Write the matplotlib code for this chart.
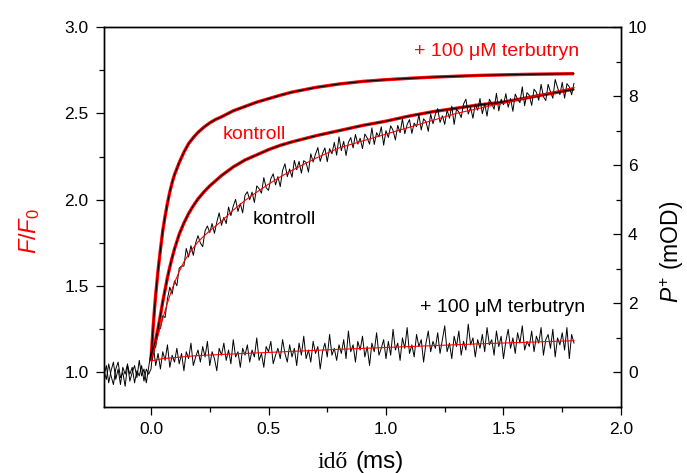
import numpy as np
import matplotlib
matplotlib.use("Agg")
import matplotlib.pyplot as plt
from matplotlib.ticker import MultipleLocator

plt.rcParams['font.family'] = ['Liberation Sans', 'DejaVu Sans']
plt.rcParams['mathtext.fontset'] = 'custom'
plt.rcParams['mathtext.rm'] = 'Liberation Sans'
plt.rcParams['mathtext.it'] = 'Liberation Sans:italic'

# --- fluorescence (F/F0), left axis ---
t_fit = [0, 0.005, 0.01, 0.015, 0.02, 0.03, 0.04, 0.05, 0.06, 0.07, 0.08, 0.09, 0.1,
         0.12, 0.14, 0.16, 0.18, 0.2, 0.225, 0.25, 0.275, 0.3, 0.35, 0.4, 0.45, 0.5, 0.55, 0.6,
         0.7, 0.8, 0.9, 1.0, 1.1, 1.2, 1.3, 1.4, 1.5, 1.6, 1.7, 1.8]
f_terb = [1.07, 1.18, 1.28, 1.37, 1.45, 1.59, 1.71, 1.82, 1.905, 1.98, 2.045, 2.10, 2.145,
          2.215, 2.275, 2.325, 2.36, 2.39, 2.42, 2.445, 2.465, 2.48, 2.515, 2.54, 2.565, 2.585,
          2.605, 2.623, 2.65, 2.67, 2.685, 2.695, 2.703, 2.71, 2.715, 2.72, 2.723, 2.726, 2.728, 2.73]
f_kontroll = [1.07, 1.10, 1.13, 1.16, 1.19, 1.255, 1.33, 1.41, 1.48, 1.55, 1.61, 1.665, 1.715,
              1.80, 1.865, 1.92, 1.965, 2.005, 2.045, 2.08, 2.11, 2.14, 2.19, 2.23, 2.26, 2.29,
              2.315, 2.335, 2.37, 2.40, 2.43, 2.455, 2.485, 2.51, 2.53, 2.55, 2.565, 2.59, 2.615, 2.64]

# --- P700+ absorbance (mOD), right axis: fits ---
p_kontroll_fit = [0.35, 0.47, 0.59, 0.71, 0.83, 1.07, 1.32, 1.56, 1.79, 2.01, 2.22, 2.42, 2.6,
                  2.92, 3.2, 3.42, 3.61, 3.78, 3.95, 4.1, 4.24, 4.38, 4.7, 4.98, 5.22, 5.45,
                  5.66, 5.85, 6.2, 6.5, 6.7, 6.9, 7.1, 7.3, 7.5, 7.65, 7.8, 7.95, 8.1, 8.25]
t_terb_fit = [0, 0.05, 0.2, 0.5, 0.8, 1.1, 1.4, 1.8]
p_terb_fit = [0.33, 0.40, 0.49, 0.58, 0.67, 0.75, 0.83, 0.92]

# --- P700+ raw traces, sampled every 0.01 ms from -0.2 to 1.8 ms ---
p_kontroll = [
    -0.1, 0.2, -0.3, 0.05, 0.3, -0.2, 0.1, -0.35, 0.15, -0.05, 0.25, -0.25, 0.0, 0.2, -0.15, 0.35, -0.1, 0.1, -0.3, 0.15,
    0.6,
    0.74, 0.73, 1.29, 1.27, 1.64, 1.59, 2.13, 2.47, 2.27, 2.65,
    2.51, 3.02, 3.08, 3.08, 3.59, 3.34, 3.67, 3.39, 3.75, 3.96,
    3.75, 3.64, 4.10, 4.24, 4.05, 4.31, 4.03, 4.35, 4.62, 4.26,
    4.49, 4.31, 4.79, 4.54, 4.82, 5.01, 4.66, 4.89, 4.62, 5.13,
    5.23, 5.00, 5.22, 4.92, 5.40, 5.32, 5.19, 5.64, 5.35, 5.27,
    5.61, 5.75, 5.43, 5.67, 5.38, 5.85, 6.04, 5.67, 5.89, 5.65,
    6.14, 5.87, 6.11, 5.77, 6.13, 6.08, 5.80, 6.33, 6.09, 6.32,
    6.51, 6.11, 6.34, 6.50, 6.10, 6.48, 6.33, 6.66, 6.29, 6.82,
    6.42, 6.69, 6.28, 6.66, 6.80, 6.50, 6.89, 6.61, 6.78, 6.48,
    6.90, 6.79, 6.61, 7.08, 6.60, 6.94, 6.82, 7.11, 6.58, 7.00,
    6.80, 7.14, 7.01, 6.73, 7.15, 6.94, 7.34, 6.91, 7.18, 7.32,
    6.92, 7.22, 7.11, 7.46, 7.02, 7.34, 7.26, 6.98, 7.48, 7.20,
    7.47, 7.64, 7.24, 7.43, 7.18, 7.60, 7.36, 7.71, 7.18, 7.62,
    7.54, 7.38, 7.77, 7.91, 7.48, 7.67, 7.36, 7.77, 7.59, 7.93,
    7.49, 7.78, 7.42, 7.91, 7.78, 7.62, 8.08, 7.57, 7.91, 7.75,
    8.07, 7.68, 7.93, 7.56, 8.06, 7.91, 7.81, 8.27, 7.72, 8.10,
    8.02, 7.73, 8.20, 8.11, 7.88, 8.34, 7.98, 7.87, 8.34, 8.12,
    7.94, 8.48, 8.25, 8.04, 8.40, 7.94, 8.36, 8.27, 8.04, 8.37,
]
p_terb = [
    0.05, -0.2, 0.25, -0.1, -0.35, 0.1, 0.3, -0.15, 0.0, -0.4, 0.2, -0.05, 0.15, -0.3, 0.05, -0.1, 0.2, -0.25, 0.1, -0.05,
    0.1,
    0.75, 0.2, 0.55, 0.1, 0.6, 0.35, 0.8, 0.15, 0.5, 0.3, 0.7, 0.25, 0.55, 0.05, 0.6, 0.4, 0.85, 0.2, 0.45, 0.65,
    0.3, 0.75, 0.45, 0.9, 0.2, 0.6, 0.4, 0.05, 0.7, 0.5, 0.85, 0.35, 0.65, 0.25, 0.95, 0.45, 0.6, 0.15, 0.7, 0.5,
    0.8, 0.3, 0.65, 0.45, 1.0, 0.35, 0.55, 0.15, 0.75, 0.6, 0.9, 0.25, 0.5, 0.7, 0.4, 0.95, 0.55, 0.3, 0.8, 0.45,
    0.7, 0.2, 0.85, 0.5, 1.05, 0.4, 0.65, 0.3, 0.9, 0.55, 0.75, 0.1, 0.6, 0.85, 0.45, 1.1, 0.5, 0.7, 0.35, 0.8,
    0.55, 0.95, 0.4, 1.2, 0.6, 0.8, 0.3, 0.9, 0.65, 1.05, 0.45, 0.75, 0.2, 0.85, 0.6, 1.15, 0.5, 0.7, 0.95, 0.4,
    0.9, 0.5, 1.25, 0.65, 0.85, 0.35, 1.0, 0.7, 1.3, 0.55, 0.8, 0.45, 1.1, 0.75, 0.95, 0.3, 0.85, 1.2, 0.6, 0.9,
    0.7, 1.15, 0.55, 0.95, 1.35, 0.6, 0.85, 0.4, 1.05, 0.75, 1.2, 0.5, 0.9, 0.65, 1.4, 0.8, 1.0, 0.45, 0.95, 0.7,
    1.1, 0.6, 1.3, 0.8, 0.95, 0.5, 1.2, 0.75, 1.05, 0.4, 0.9, 1.25, 0.7, 1.0, 0.55, 1.15, 0.85, 1.35, 0.65, 0.9,
    0.75, 1.2, 0.6, 1.05, 0.85, 1.3, 0.5, 0.95, 1.1, 0.7, 1.25, 0.45, 1.0, 0.8, 1.15, 0.65, 1.3, 0.4, 1.1, 0.85,
]
t_trace = np.round(np.arange(len(p_kontroll)) * 0.01 - 0.2, 3)

RED = '#ff0000'

fig = plt.figure(figsize=(6.87, 4.73), dpi=100)
ax = fig.add_axes([0.1514, 0.1395, 0.7525, 0.8034])
ax2 = ax.twinx()

# red fluorescence traces with black fits
for f in (f_terb, f_kontroll):
    ax.plot(t_fit, f, color=RED, lw=2.4, solid_capstyle='butt', zorder=2)
    ax.plot(t_fit, f, color='black', lw=0.8, zorder=3)

# black P700 traces with red fits
ax2.plot(t_trace, p_kontroll, color='black', lw=0.7)
ax2.plot(t_trace, p_terb, color='black', lw=0.7)
ax2.plot(t_fit, p_kontroll_fit, color=RED, lw=0.8)
ax2.plot(t_terb_fit, p_terb_fit, color=RED, lw=0.8)

ax.set_xlim(-0.2, 2.0)
ax.set_ylim(0.8, 3.0)
ax2.set_ylim(-1, 10)

ax.xaxis.set_major_locator(MultipleLocator(0.5))
ax.xaxis.set_minor_locator(MultipleLocator(0.25))
ax.yaxis.set_major_locator(MultipleLocator(0.5))
ax.yaxis.set_minor_locator(MultipleLocator(0.25))
ax2.yaxis.set_major_locator(MultipleLocator(2))
ax2.yaxis.set_minor_locator(MultipleLocator(1))
ax.xaxis.set_major_formatter(plt.FormatStrFormatter('%.1f'))
ax.yaxis.set_major_formatter(plt.FormatStrFormatter('%.1f'))

ax.tick_params(which='major', direction='out', length=6, width=0.9, labelsize=12.5, pad=5)
ax.tick_params(which='minor', direction='out', length=3.5, width=0.9)
ax.tick_params(top=False, right=False, which='both')
ax2.tick_params(which='major', direction='in', length=6, width=0.9, labelsize=12.5, pad=5)
ax2.tick_params(which='minor', direction='in', length=3.5, width=0.9)

for a in (ax, ax2):
    for s in a.spines.values():
        s.set_linewidth(1.0)

ax.set_ylabel(r'$F/F_0$', color=RED, fontsize=17)
ax.yaxis.set_label_coords(-0.12, 0.463)
ax2.set_ylabel(r'$P^{+}$ (mOD)', fontsize=16.5)
ax2.yaxis.set_label_coords(1.072, 0.408)

fig.text(348 / 687, 1 - 462 / 473, 'idő', family='Liberation Serif', fontsize=17,
         ha='right', va='center')
fig.text(356 / 687, 1 - 462 / 473, '(ms)', fontsize=17.5, ha='left', va='center')

ax.text(1.12, 2.86, '+ 100 μM terbutryn', color=RED, fontsize=14, va='center')
ax.text(0.303, 2.378, 'kontroll', color=RED, fontsize=14, va='center')
ax.text(0.431, 1.884, 'kontroll', color='black', fontsize=14, va='center')
ax.text(1.143, 1.378, '+ 100 μM terbutryn', color='black', fontsize=14, va='center')

fig.savefig('out.png', dpi=100)
